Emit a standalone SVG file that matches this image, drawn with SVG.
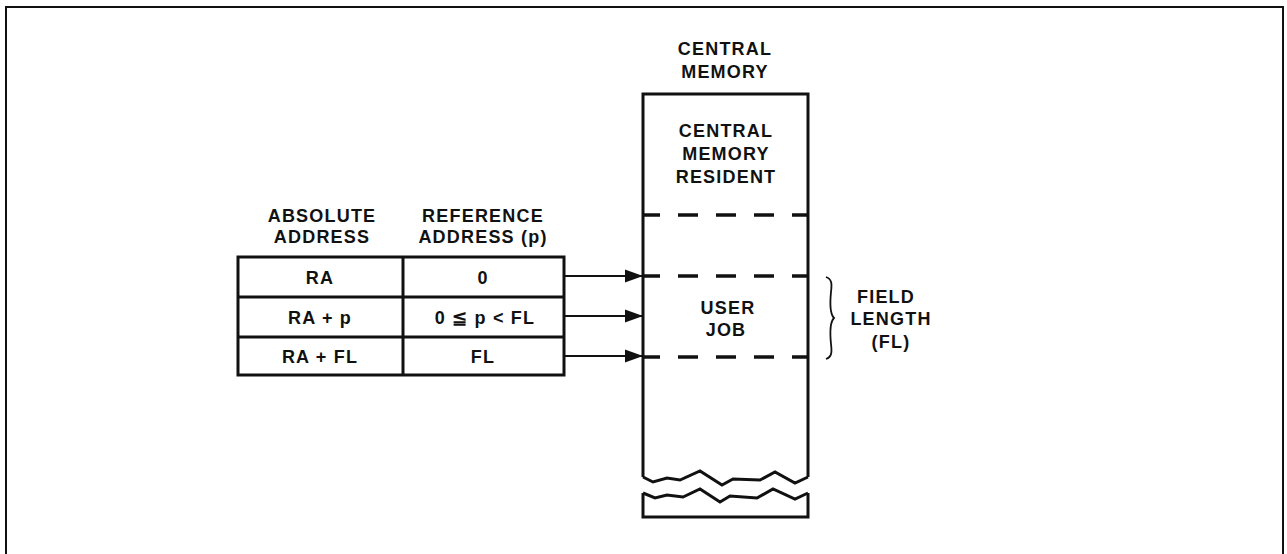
<svg xmlns="http://www.w3.org/2000/svg" width="1287" height="554" viewBox="0 0 1287 554">
<defs>
<style>
text{font-family:"Liberation Sans",Arial,sans-serif;font-weight:bold;font-size:18px;fill:#111;text-anchor:middle;letter-spacing:1.2px}
.ln{fill:none;stroke:#111;stroke-width:3}
.dash{fill:none;stroke:#111;stroke-width:3.5;stroke-dasharray:20 18;stroke-dashoffset:3}
.arr{fill:none;stroke:#111;stroke-width:2.2}
</style>
<marker id="ah" markerUnits="userSpaceOnUse" markerWidth="20" markerHeight="14" refX="18" refY="7" orient="auto">
<path d="M0,0.5 L18,7 L0,13.5 Z" fill="#111"/>
</marker>
</defs>
<rect width="1287" height="554" fill="#fff"/>
<path d="M6,554 V7 H1283 V554" fill="none" stroke="#111" stroke-width="2"/>

<g id="table">
<text x="322" y="222">ABSOLUTE</text>
<text x="322" y="243">ADDRESS</text>
<text x="483" y="222">REFERENCE</text>
<text x="483" y="243">ADDRESS (p)</text>
<rect x="238" y="257" width="326" height="118" class="ln"/>
<line x1="403" y1="257" x2="403" y2="375" class="ln"/>
<line x1="238" y1="297" x2="564" y2="297" class="ln"/>
<line x1="238" y1="337" x2="564" y2="337" class="ln"/>
<text x="320" y="284">RA</text>
<text x="483" y="284">0</text>
<text x="320" y="324">RA + p</text>
<text x="485" y="324">0 ≦ p &lt; FL</text>
<text x="320" y="363">RA + FL</text>
<text x="483" y="363">FL</text>
</g>

<g id="memory">
<text x="725" y="55">CENTRAL</text>
<text x="725" y="78">MEMORY</text>
<path d="M643,477 V94 H808 V477" class="ln"/>
<path d="M643,477 L653,482 L667,478 L680,480 L700,471 L722,485 L733,479 L760,480 L775,472 L795,483 L808,477" class="ln"/>
<path d="M643,493 L655,498 L667,495 L683,497 L700,489 L720,502 L730,496 L757,498 L773,489 L795,499 L808,493" class="ln"/>
<path d="M643,493 V517 H808 V493" class="ln"/>
<line x1="643" y1="215" x2="808" y2="215" class="dash"/>
<line x1="643" y1="276" x2="808" y2="276" class="dash"/>
<line x1="643" y1="357" x2="808" y2="357" class="dash"/>
<text x="726" y="137">CENTRAL</text>
<text x="726" y="160">MEMORY</text>
<text x="726" y="183">RESIDENT</text>
<text x="728" y="314">USER</text>
<text x="726" y="336">JOB</text>
</g>

<g id="fieldlength">
<path d="M826,277 C832,279 832,284 831,292 C830,302 830,314 834,318 C830,322 830,334 831,344 C832,352 832,357 826,359" fill="none" stroke="#111" stroke-width="1.8"/>
<text x="886" y="303">FIELD</text>
<text x="891" y="325">LENGTH</text>
<text x="891" y="348">(FL)</text>
</g>

<g id="connectors">
<line x1="564" y1="276" x2="643" y2="276" class="arr" marker-end="url(#ah)"/>
<line x1="564" y1="316" x2="643" y2="316" class="arr" marker-end="url(#ah)"/>
<line x1="564" y1="356" x2="643" y2="356" class="arr" marker-end="url(#ah)"/>
</g>
</svg>
